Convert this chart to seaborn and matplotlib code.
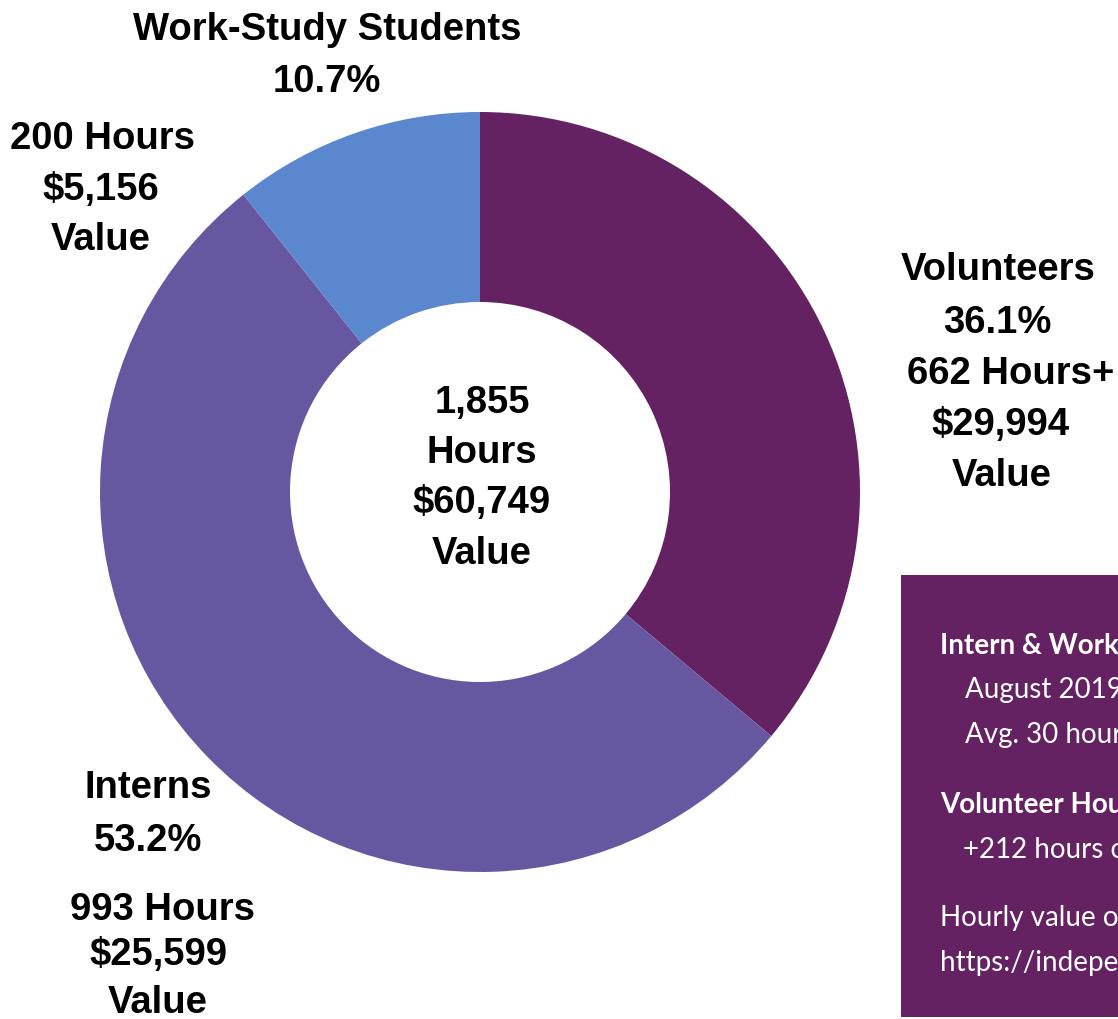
import matplotlib
matplotlib.use("Agg")
import matplotlib.pyplot as plt
import seaborn as sns
import pandas as pd

categories = ["Volunteers", "Interns", "Work-Study Students"]
shares = [36.1, 53.2, 10.7]
hours = ["662 Hours+", "993 Hours", "200 Hours"]
values = ["$29,994", "$25,599", "$5,156"]
colors = ["#642263", "#6757A0", "#5B87CF"]
center_lines = ["1,855", "Hours", "$60,749", "Value"]
box_lines = [
    ("Intern & Work-Study Hours:", "bold", 940, 646),
    ("August 2019 - May 2020", "normal", 965, 690),
    ("Avg. 30 hours per week", "normal", 965, 735),
    ("Volunteer Hours:", "bold", 940, 805),
    ("+212 hours of board service", "normal", 963, 850),
    ("Hourly value of volunteer time:", "normal", 940, 918),
    ("https://independentsector.org", "normal", 940, 963),
]

df = pd.DataFrame({"category": categories, "share": shares, "color": colors})

sns.set_theme(style="white")
plt.rcParams["font.family"] = ["Liberation Sans", "DejaVu Sans"]

W, H = 1118, 1019
fig = plt.figure(figsize=(W / 100, H / 100), dpi=100)
ax = fig.add_axes([0, 0, 1, 1])

def Y(y):
    return H - y

cx, cy, R = 480, 492, 380
ax.pie(df["share"], colors=df["color"], startangle=90, counterclock=False,
       center=(cx, Y(cy)), radius=R, frame=True,
       wedgeprops=dict(width=190, linewidth=0))
ax.set_xlim(0, W)
ax.set_ylim(0, H)
ax.set_aspect("equal")
ax.axis("off")

fs = 27.5
def lab(s, x, y, size=fs):
    ax.text(x, Y(y), s, ha="center", va="center", fontsize=size,
            fontweight="bold", color="black")

# Work-study
lab("Work-Study Students", 327, 30)
lab(f"{shares[2]}%", 327, 82)
lab(hours[2], 102, 139)
lab(values[2], 101, 190)
lab("Value", 101, 240)
# Volunteers
lab(categories[0], 998, 270)
lab(f"{shares[0]}%", 997, 323)
lab(hours[0], 1011, 374)
lab(values[0], 1001, 425)
lab("Value", 1002, 476)
# Interns
lab(categories[1], 148, 788)
lab(f"{shares[1]}%", 148, 841)
lab(hours[1], 162, 910)
lab(values[1], 158, 955)
lab("Value", 158, 1003)
# Center
for s, y in zip(center_lines, [403, 453, 503, 554]):
    lab(s, 482, y)

# Info box
from matplotlib.patches import Rectangle
ax.add_patch(Rectangle((901, Y(1017)), 300, 1017 - 575, facecolor=colors[0],
                       edgecolor="none"))
for s, w, x, y in box_lines:
    ax.text(x, Y(y), s, ha="left", va="center", fontsize=20,
            fontweight=w, color="white",
            family=["Lato", "DejaVu Sans"])

fig.savefig("out.png", dpi=100)
